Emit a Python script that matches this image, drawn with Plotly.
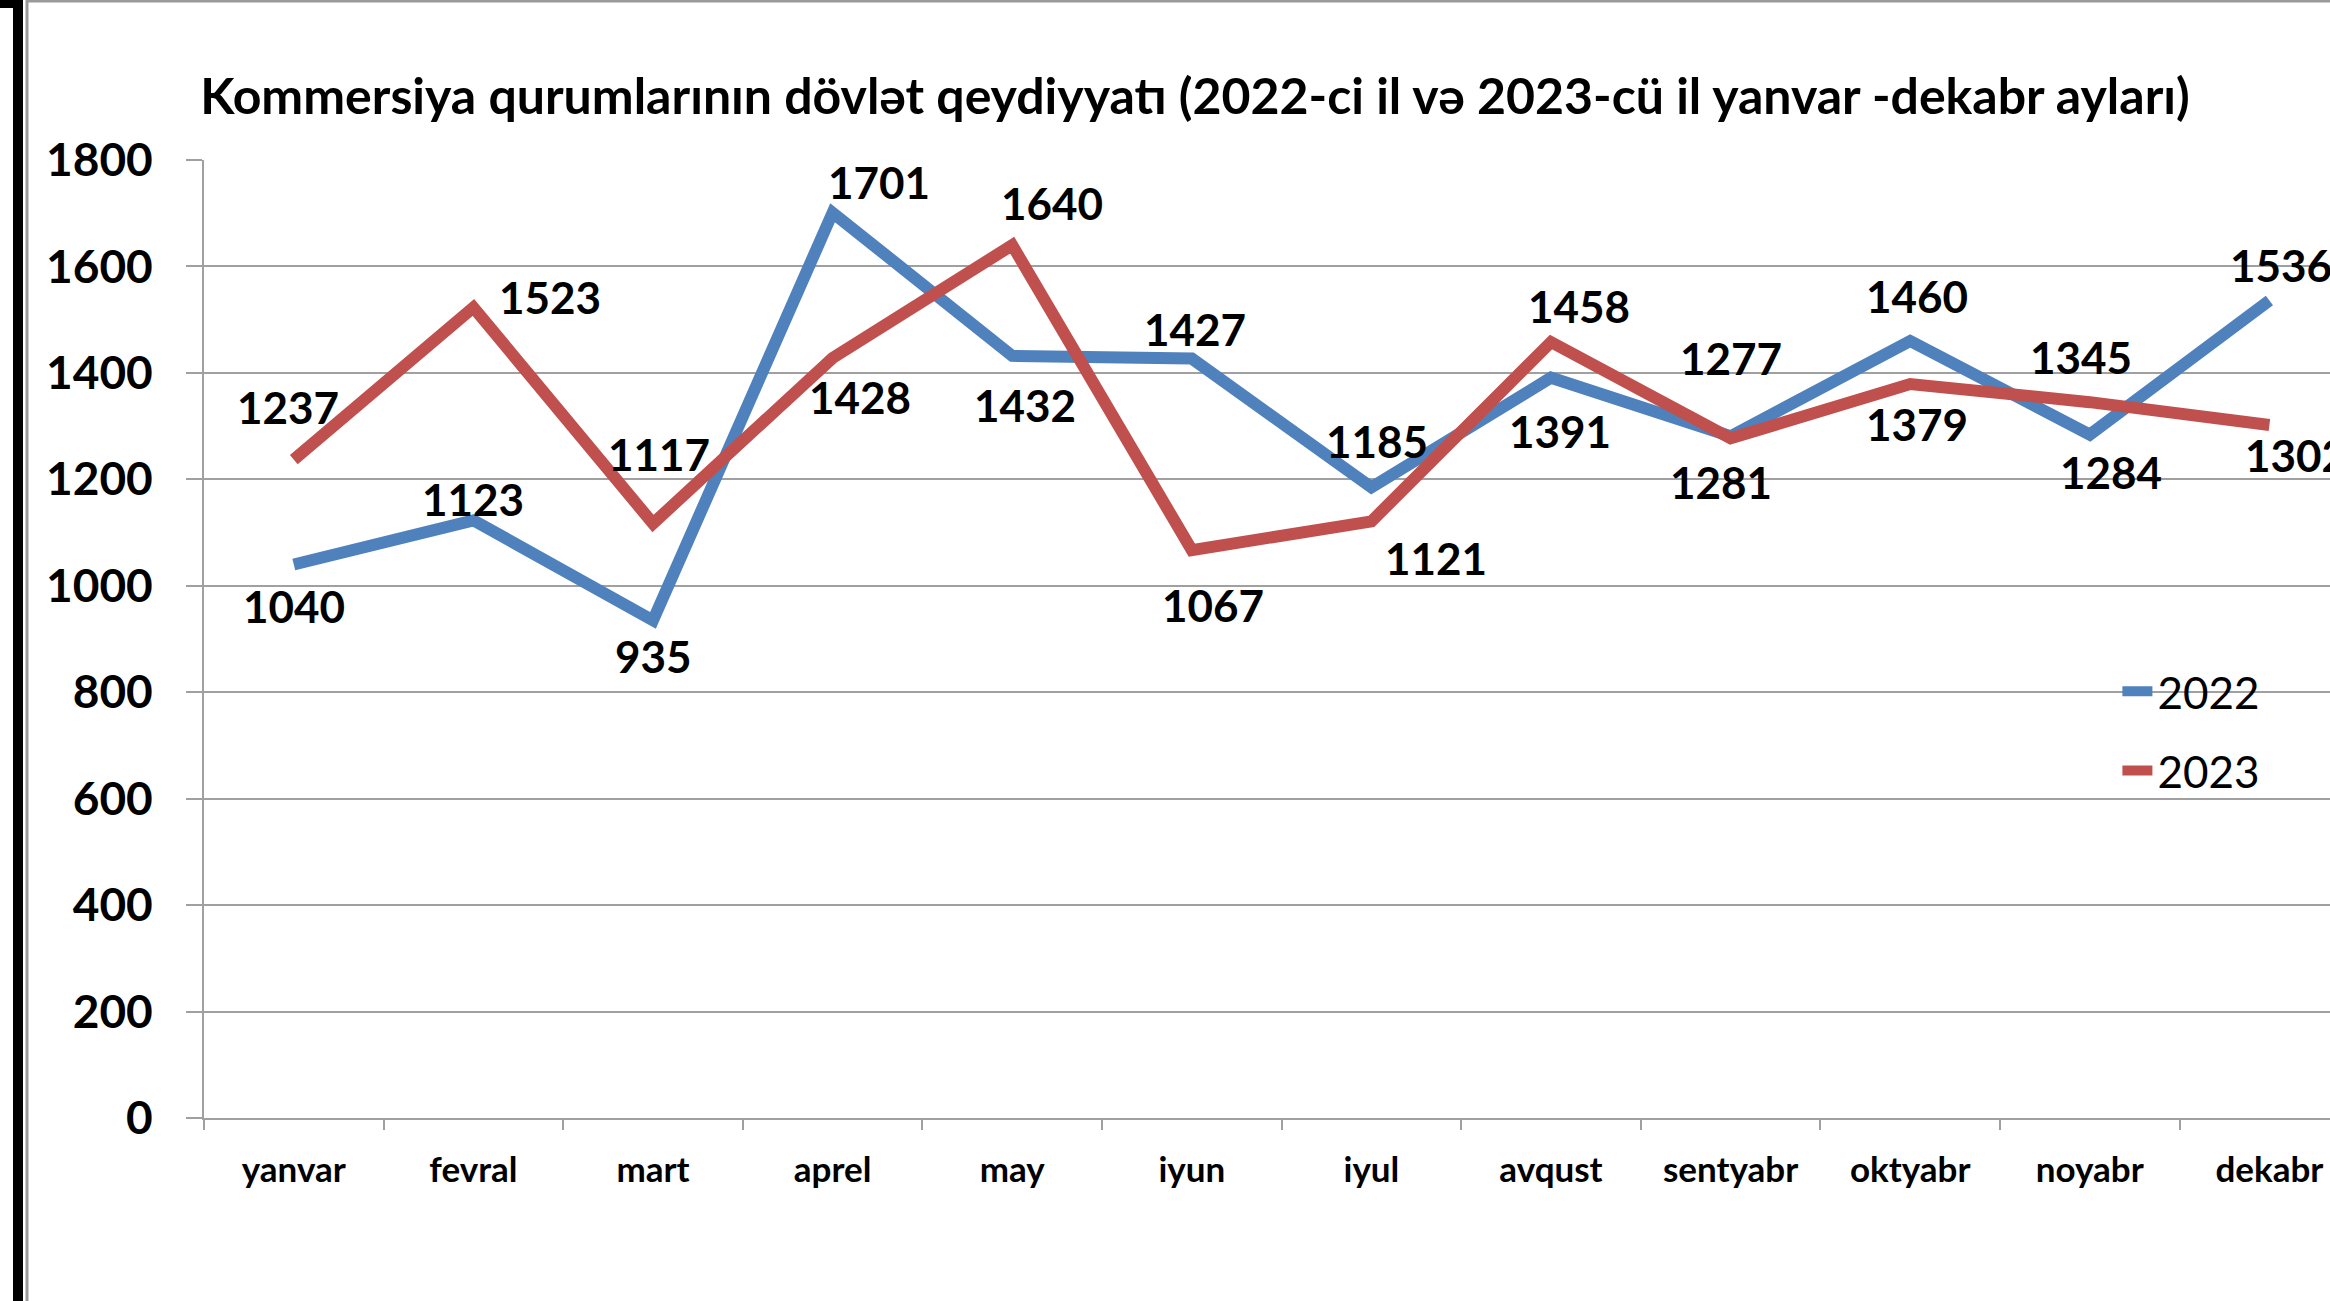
import plotly.graph_objects as go

months = ["yanvar", "fevral", "mart", "aprel", "may", "iyun", "iyul",
          "avqust", "sentyabr", "oktyabr", "noyabr", "dekabr"]
y2022 = [1040, 1123, 935, 1701, 1432, 1427, 1185, 1391, 1281, 1460, 1284, 1536]
y2023 = [1237, 1523, 1117, 1428, 1640, 1067, 1121, 1458, 1277, 1379, 1345, 1302]
ytick_vals = [0, 200, 400, 600, 800, 1000, 1200, 1400, 1600, 1800]

title_text = "Kommersiya qurumlarının dövlət qeydiyyatı (2022-ci il və 2023-cü il yanvar -dekabr ayları)"

# label offsets (pixels) for hand-placed data labels
shift2022 = [(0, -42), (0, 21), (0, -36), (46, 31), (13, -49), (3, 30),
             (6, 46), (9, -53), (-10, -46), (7, 45), (21, -37), (12, 36)]
shift2023 = [(-6, 53), (77, 10), (6, 70), (27, -39), (40, 42), (21, -55),
             (65, -37), (28, 36), (0, 80), (7, -40), (-9, 45), (27, -30)]

BLUE = "#4F81BD"
RED = "#C0504D"
GRID = "#a0a0a0"
FONT = "Lato"

W, H = 2330, 1301
ML, MT, MB, MR = 204, 160, 183, 0
cat_w = 179.6
plot_w = W - ML - MR
plot_h = H - MT - MB
x_max = -0.5 + plot_w / cat_w

fig = go.Figure()
fig.add_trace(go.Scatter(x=months, y=y2022, mode="lines", name="2022",
                         legendgroup="a",
                         line=dict(color=BLUE, width=12), cliponaxis=True))
fig.add_trace(go.Scatter(x=months, y=y2023, mode="lines", name="2023",
                         legendgroup="b",
                         line=dict(color=RED, width=12), cliponaxis=True))

annotations = []
for vals, shifts in ((y2022, shift2022), (y2023, shift2023)):
    for m, v, (dx, dy) in zip(months, vals, shifts):
        annotations.append(dict(x=m, y=v, text=str(v), showarrow=False,
                                xshift=dx, yshift=dy,
                                font=dict(family=FONT, size=44, color="black", weight="bold")))

fig.update_layout(
    width=W, height=H,
    margin=dict(l=ML, r=MR, t=MT, b=MB, pad=0),
    paper_bgcolor="white", plot_bgcolor="white",
    font=dict(family=FONT, color="black"),
    title=dict(text=title_text, x=1195 / W, xanchor="center", xref="container",
               y=1 - 96 / H, yanchor="middle", yref="container",
               font=dict(family=FONT, size=50, color="black", weight="bold")),
    showlegend=True,
    legend=dict(x=0.9, y=0.482, xanchor="left", yanchor="top",
                bgcolor="rgba(0,0,0,0)", tracegroupgap=19,
                font=dict(family=FONT, size=44, color="black")),
    annotations=annotations,
    xaxis=dict(type="category", range=[-0.5, x_max], showgrid=False,
               showline=True, linecolor=GRID, linewidth=2,
               ticks="outside", tickson="boundaries", ticklen=10,
               tickcolor=GRID, tickwidth=2,
               tickfont=dict(family=FONT, size=35, color="black", weight="bold"),
               ticklabelstandoff=20, fixedrange=True),
    yaxis=dict(range=[0, 1800], tickvals=ytick_vals, showgrid=True,
               gridcolor=GRID, gridwidth=2, zeroline=False,
               showline=True, linecolor=GRID, linewidth=2,
               ticks="outside", ticklen=16, tickcolor=GRID, tickwidth=2,
               tickfont=dict(family=FONT, size=46, color="black", weight="bold"),
               ticklabelstandoff=24, fixedrange=True),
    shapes=[
        # outer frame (gray) and black bracket on the left
        dict(type="line", xref="paper", yref="paper",
             x0=(27 - ML) / plot_w, x1=1.01, y0=1 + (MT - 1) / plot_h,
             y1=1 + (MT - 1) / plot_h, line=dict(color="#9a9a9a", width=3)),
        dict(type="line", xref="paper", yref="paper",
             x0=(27 - ML) / plot_w, x1=(27 - ML) / plot_w,
             y0=-MB / plot_h, y1=1 + MT / plot_h,
             line=dict(color="#9a9a9a", width=3)),
        dict(type="line", xref="paper", yref="paper",
             x0=(18 - ML) / plot_w, x1=(18 - ML) / plot_w,
             y0=-MB / plot_h - 0.01, y1=1 + MT / plot_h,
             line=dict(color="black", width=10)),
        dict(type="line", xref="paper", yref="paper",
             x0=(0 - ML) / plot_w, x1=(23 - ML) / plot_w,
             y0=1 + (MT - 4) / plot_h, y1=1 + (MT - 4) / plot_h,
             line=dict(color="black", width=8)),
    ],
)

fig.write_html("out.html", config={"displayModeBar": False},
               post_script="document.body.style.margin='0';document.body.style.overflow='hidden';")
